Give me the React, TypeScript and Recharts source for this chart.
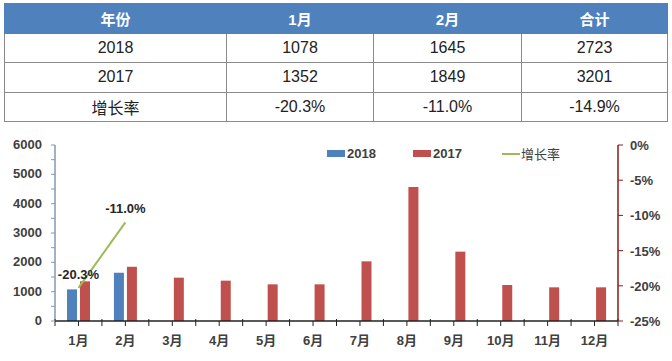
import React from "react";
import {
  ComposedChart,
  Bar,
  Line,
  XAxis,
  YAxis,
  Legend,
  LabelList,
} from "recharts";

const months = ["1月", "2月", "3月", "4月", "5月", "6月", "7月", "8月", "9月", "10月", "11月", "12月"];
const sales2018 = [1078, 1645, null, null, null, null, null, null, null, null, null, null];
const sales2017 = [1352, 1849, 1477, 1375, 1250, 1250, 2034, 4568, 2364, 1227, 1148, 1148];
const growth = [-20.3, -11.0, null, null, null, null, null, null, null, null, null, null];

const leftTicks = [0, 500, 1000, 1500, 2000, 2500, 3000, 3500, 4000, 4500, 5000, 5500, 6000];
const rightTicks = [-25, -20, -15, -10, -5, 0];

const tableHead = ["年份", "1月", "2月", "合计"];
const tableRows = [
  ["2018", "1078", "1645", "2723"],
  ["2017", "1352", "1849", "3201"],
  ["增长率", "-20.3%", "-11.0%", "-14.9%"],
];
const colWidths = [222, 147, 148, 146];

const FONT = "'Liberation Sans', 'Noto Sans CJK SC', sans-serif";
const BLUE = "#4F81BD";
const RED = "#C0504D";
const GREEN = "#9BBB59";
const TEXT = "#404040";
const DARKRED = "#8B1A1A";

const data = months.map((m, i) => ({
  month: m,
  y2018: sales2018[i],
  y2017: sales2017[i],
  rate: growth[i],
}));

const LeftTick = ({ x, y, payload }: any) => (
  <g>
    <line x1={x - 4} x2={x} y1={y} y2={y} stroke="#8497B0" />
    {payload.value % 1000 === 0 && (
      <text x={x - 13} y={y} dy={4} textAnchor="end" fontSize={13} fontWeight="bold" fill={TEXT} fontFamily={FONT}>
        {payload.value}
      </text>
    )}
  </g>
);

const RightTick = ({ x, y, payload }: any) => (
  <g>
    <line x1={x} x2={x + 5} y1={y} y2={y} stroke={DARKRED} />
    <text x={x + 12} y={y} dy={5} textAnchor="start" fontSize={13} fontWeight="bold" fill={TEXT} fontFamily={FONT}>
      {`${payload.value}%`}
    </text>
  </g>
);

const MonthTick = ({ x, y, payload, index }: any) => {
  const half = 563 / 12 / 2;
  return (
    <g>
      <line x1={x} x2={x} y1={y} y2={y + 5} stroke="#222" />
      <line x1={x - half} x2={x - half} y1={y - 2} y2={y + 5} stroke="#222" />
      {index === 11 && <line x1={x + half} x2={x + half} y1={y - 2} y2={y + 5} stroke="#222" />}
      <text x={x} y={y + 24} textAnchor="middle" fontSize={13} fontWeight="bold" fill={TEXT} fontFamily={FONT}>
        {payload.value}
      </text>
    </g>
  );
};

const LegendContent = () => (
  <div style={{ display: "flex", fontFamily: FONT, fontSize: 13, fontWeight: "bold", color: TEXT }}>
    <div style={{ width: 86, display: "flex", alignItems: "center" }}>
      <span style={{ width: 18, height: 7, background: BLUE, marginRight: 2 }} />
      2018
    </div>
    <div style={{ width: 89, display: "flex", alignItems: "center" }}>
      <span style={{ width: 18, height: 7, background: RED, marginRight: 2 }} />
      2017
    </div>
    <div style={{ display: "flex", alignItems: "center", fontWeight: "normal" }}>
      <span style={{ width: 18, height: 2, background: GREEN, marginRight: 1 }} />
      增长率
    </div>
  </div>
);

const cell: React.CSSProperties = {
  border: "1px solid #8a8a8a",
  textAlign: "center",
  padding: 0,
};

export default function App() {
  return (
    <div style={{ position: "absolute", left: 0, top: 0, width: 672, height: 361, background: "#fff", overflow: "hidden" }}>
      <table
        style={{
          position: "absolute",
          left: 4,
          top: 3,
          width: 663,
          height: 119,
          borderCollapse: "collapse",
          border: "1.5px solid #555",
          fontFamily: FONT,
          tableLayout: "fixed",
        }}
      >
        <colgroup>
          {colWidths.map((w, i) => (
            <col key={i} style={{ width: w }} />
          ))}
        </colgroup>
        <thead>
          <tr style={{ height: 30, background: BLUE }}>
            {tableHead.map((h, i) => (
              <th key={i} style={{ ...cell, border: "1px solid " + BLUE, color: "#fff", fontSize: 15, fontWeight: "bold" }}>
                {h}
              </th>
            ))}
          </tr>
        </thead>
        <tbody>
          {tableRows.map((r, ri) => (
            <tr key={ri} style={{ height: 29 }}>
              {r.map((c, ci) => (
                <td key={ci} style={{ ...cell, fontSize: 16, color: "#222" }}>
                  {c}
                </td>
              ))}
            </tr>
          ))}
        </tbody>
      </table>

      <div style={{ position: "absolute", left: 0, top: 130 }}>
        <ComposedChart
          width={672}
          height={231}
          data={data}
          margin={{ top: 15, right: 9, bottom: 10, left: 10 }}
          barSize={10}
          barGap={3}
        >
          <XAxis
            dataKey="month"
            height={30}
            axisLine={{ stroke: "#222", strokeWidth: 1.5 }}
            tickLine={false}
            tickSize={0}
            tickMargin={0}
            tick={<MonthTick />}
            interval={0}
          />
          <YAxis
            yAxisId="left"
            orientation="left"
            width={45}
            domain={[0, 6000]}
            ticks={leftTicks}
            interval={0}
            axisLine={{ stroke: "#8497B0", strokeWidth: 1.5 }}
            tickLine={false}
            tickSize={0}
            tickMargin={0}
            tick={<LeftTick />}
          />
          <YAxis
            yAxisId="right"
            orientation="right"
            width={45}
            domain={[-25, 0]}
            ticks={rightTicks}
            interval={0}
            axisLine={{ stroke: DARKRED, strokeWidth: 1.5 }}
            tickLine={false}
            tickSize={0}
            tickMargin={0}
            tick={<RightTick />}
          />
          <Legend
            layout="horizontal"
            verticalAlign="middle"
            align="center"
            wrapperStyle={{ top: 14, left: 327, width: 300 }}
            content={<LegendContent />}
          />
          <Bar yAxisId="left" dataKey="y2018" name="2018" fill={BLUE} isAnimationActive={false} />
          <Bar yAxisId="left" dataKey="y2017" name="2017" fill={RED} isAnimationActive={false} />
          <Line
            yAxisId="right"
            dataKey="rate"
            name="增长率"
            stroke={GREEN}
            strokeWidth={2}
            dot={false}
            isAnimationActive={false}
          >
            <LabelList
              dataKey="rate"
              position="top"
              offset={9}
              formatter={(v: any) => (v == null ? "" : `${Number(v).toFixed(1)}%`)}
              style={{ fontSize: 13, fontWeight: "bold", fill: "#262626", fontFamily: FONT }}
            />
          </Line>
        </ComposedChart>
      </div>
    </div>
  );
}
